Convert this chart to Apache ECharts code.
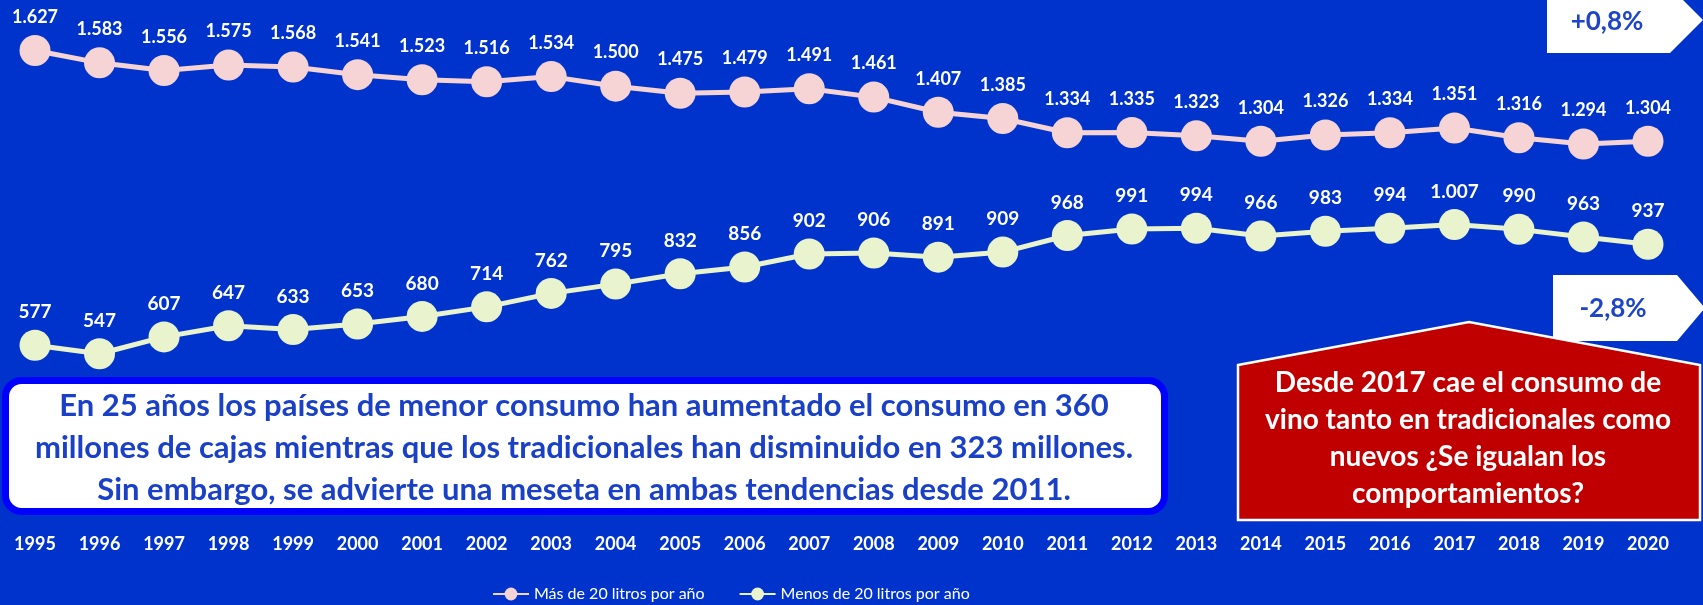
<!DOCTYPE html>
<html>
<head>
<meta charset="utf-8">
<script src="https://cdn.jsdelivr.net/npm/echarts@6/dist/echarts.min.js"></script>
<style>
  html, body { margin: 0; padding: 0; background: #0033cc; }
  #chart { width: 1703px; height: 605px; }
</style>
</head>
<body>
<div id="chart"></div>
<script>
// Wine consumption (millions of cases) by country group, 1995–2020
const years = ['1995','1996','1997','1998','1999','2000','2001','2002','2003','2004','2005','2006','2007',
  '2008','2009','2010','2011','2012','2013','2014','2015','2016','2017','2018','2019','2020'];
const masDe20 = [1627,1583,1556,1575,1568,1541,1523,1516,1534,1500,1475,1479,1491,1461,1407,1385,
  1334,1335,1323,1304,1326,1334,1351,1316,1294,1304];
const menosDe20 = [577,547,607,647,633,653,680,714,762,795,832,856,902,906,891,909,968,991,994,966,
  983,994,1007,990,963,937];
const seriesNames = ['Más de 20 litros por año', 'Menos de 20 litros por año'];

const FONT = 'Lato, "Open Sans", sans-serif';
const fmt = v => v >= 1000 ? Math.floor(v / 1000) + '.' + String(v % 1000).padStart(3, '0') : String(v);

const chart = echarts.init(document.getElementById('chart'));
chart.setOption({
  backgroundColor: '#0033cc',
  animation: false,
  // the plot extends down to the year labels; the value axis starts below zero so both lines sit high
  grid: { left: 35, right: 55, top: 30, height: 497 },
  xAxis: {
    type: 'category', data: years, boundaryGap: false,
    axisLine: { show: false }, axisTick: { show: false }, splitLine: { show: false },
    axisLabel: { margin: 8, color: '#fff', fontFamily: FONT, fontWeight: 'bold', fontSize: 18 }
  },
  yAxis: { type: 'value', min: -70, max: 1700, show: false, splitLine: { show: false } },
  legend: {
    left: 487, top: 581, itemWidth: 36, itemHeight: 16, itemGap: 34,
    textStyle: { color: '#fff', fontFamily: FONT, fontSize: 16, fontWeight: 'normal' },
    data: seriesNames
  },
  series: [
    {
      name: seriesNames[0], type: 'line', data: masDe20,
      symbol: 'circle', symbolSize: 31,
      itemStyle: { color: '#f6d4d5' }, lineStyle: { color: '#f6d4d5', width: 5 },
      label: { show: true, position: 'top', distance: 9, color: '#fff', fontFamily: FONT,
        fontWeight: 'bold', fontSize: 18, formatter: p => fmt(p.value) }
    },
    {
      name: seriesNames[1], type: 'line', data: menosDe20,
      symbol: 'circle', symbolSize: 31,
      itemStyle: { color: '#e9f3cd' }, lineStyle: { color: '#e9f3cd', width: 5 },
      label: { show: true, position: 'top', distance: 8, color: '#fff', fontFamily: FONT,
        fontWeight: 'bold', fontSize: 19, formatter: p => fmt(p.value) }
    }
  ],
  graphic: [
    // note box on the left
    { type: 'rect', shape: { x: 5.5, y: 380.5, width: 1159, height: 131, r: 16 },
      style: { fill: '#ffffff', stroke: '#0000ff', lineWidth: 7 } },
    { type: 'text', x: 584, y: 448,
      style: { text: 'En 25 años los países de menor consumo han aumentado el consumo en 360\nmillones de cajas mientras que los tradicionales han disminuido en 323 millones.\nSin embargo, se advierte una meseta en ambas tendencias desde 2011.',
        align: 'center', verticalAlign: 'middle', lineHeight: 42,
        font: 'bold 31px ' + FONT, fill: '#1a40c8' } },
    // change tags
    { type: 'polygon', shape: { points: [[1547,-13],[1670,-13],[1703,20],[1670,53],[1547,53]] },
      style: { fill: '#ffffff' } },
    { type: 'text', x: 1607, y: 22,
      style: { text: '+0,8%', align: 'center', verticalAlign: 'middle',
        font: 'bold 26px ' + FONT, fill: '#1e44c8' } },
    { type: 'polygon', shape: { points: [[1553,275],[1677,275],[1705,308],[1677,341],[1553,341]] },
      style: { fill: '#ffffff' } },
    { type: 'text', x: 1613, y: 309,
      style: { text: '-2,8%', align: 'center', verticalAlign: 'middle',
        font: 'bold 26px ' + FONT, fill: '#1e44c8' } },
    // red callout
    { type: 'polygon', shape: { points: [[1238,365],[1469,322],[1700,365],[1700,520],[1238,520]] },
      style: { fill: '#c00000', stroke: '#ffffff', lineWidth: 2.5 } },
    { type: 'text', x: 1468, y: 438,
      style: { text: 'Desde 2017 cae el consumo de\nvino tanto en tradicionales como\nnuevos ¿Se igualan los\ncomportamientos?',
        align: 'center', verticalAlign: 'middle', lineHeight: 37,
        font: 'bold 28px ' + FONT, fill: '#ffffff' } }
  ]
});
</script>
</body>
</html>
